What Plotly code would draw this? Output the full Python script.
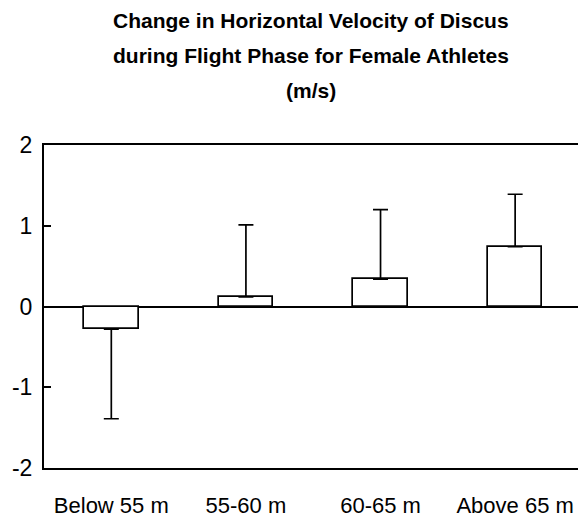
import plotly.graph_objects as go

# Distance groups and mean change in horizontal velocity (m/s) with SD
groups = ["Below 55 m", "55-60 m", "60-65 m", "Above 65 m"]
mean_change = [-0.28, 0.12, 0.34, 0.74]
sd_up = [0.0, 0.89, 0.86, 0.65]
sd_down = [1.11, 0.0, 0.0, 0.0]

y_ticks = [-2, -1, 0, 1, 2]

title_lines = [
    "Change in Horizontal Velocity of Discus",
    "during Flight Phase for Female Athletes",
    "(m/s)",
]

font_family = "Liberation Sans, Arial, sans-serif"

fig = go.Figure()
fig.add_trace(go.Bar(
    x=groups,
    y=mean_change,
    width=0.405,
    marker=dict(color="white", line=dict(color="black", width=1.7)),
    error_y=dict(
        type="data",
        symmetric=False,
        array=sd_up,
        arrayminus=sd_down,
        color="black",
        thickness=1.7,
        width=7.5,
    ),
    showlegend=False,
))

# three title lines, each placed on its own row above the plot
title_rows = [1.386, 1.277, 1.169]
for line, row in zip(title_lines, title_rows):
    fig.add_annotation(
        text=f"<b>{line}</b>",
        xref="paper", yref="paper",
        x=0.5, y=row,
        xanchor="center", yanchor="middle",
        showarrow=False,
        font=dict(family=font_family, size=21, color="black"),
    )

fig.update_layout(
    width=578,
    height=521,
    paper_bgcolor="white",
    plot_bgcolor="white",
    margin=dict(l=44, r=0, t=145, b=53),
    bargap=0,
)

fig.update_xaxes(
    range=[-0.5, 3.467],
    showline=True,
    mirror=True,
    linecolor="black",
    linewidth=2,
    ticks="",
    showgrid=False,
    tickfont=dict(family=font_family, size=22, color="black"),
    ticklabelstandoff=17,
)

fig.update_yaxes(
    range=[-2, 2],
    tickvals=y_ticks,
    ticktext=[str(v) for v in y_ticks],
    showline=True,
    mirror=False,
    linecolor="black",
    linewidth=2,
    ticks="inside",
    ticklen=7,
    tickwidth=1.5,
    tickcolor="black",
    showgrid=False,
    zeroline=True,
    zerolinecolor="black",
    zerolinewidth=1.5,
    tickfont=dict(family=font_family, size=23, color="black"),
    ticklabelstandoff=5,
)

fig.write_html("out.html")
